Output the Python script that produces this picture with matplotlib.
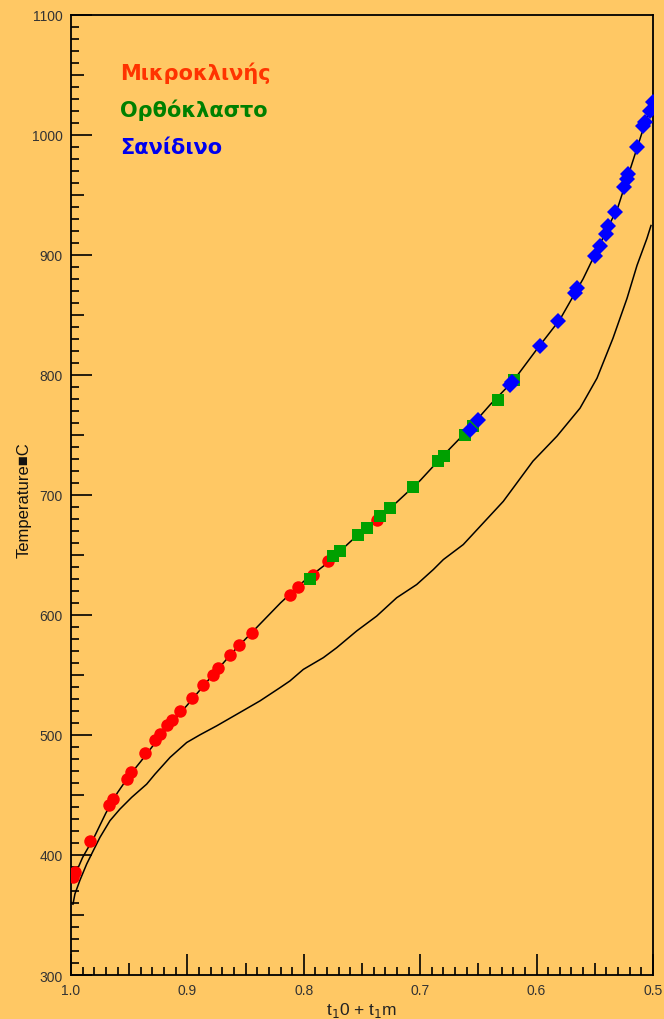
import numpy as np
import matplotlib
matplotlib.use('Agg')
import matplotlib.pyplot as plt
from matplotlib.ticker import MultipleLocator

plt.rcParams['font.family'] = ['Liberation Sans', 'DejaVu Sans']

# composition axis (t1o + t1m) and temperature (°C)
micro_x = [0.9985, 0.9966, 0.9837, 0.9674, 0.9639, 0.9519, 0.9485, 0.9364, 0.9278,
           0.9235, 0.9175, 0.9132, 0.9064, 0.8960, 0.8866, 0.8780, 0.8737, 0.8634,
           0.8557, 0.8445, 0.8119, 0.8050, 0.7921, 0.7792, 0.7371]
micro_t = [381.5, 385.6, 411.4, 441.3, 446.3, 463.0, 468.8, 484.6, 495.4,
           500.4, 507.9, 512.8, 520.3, 531.1, 541.9, 550.2, 556.1, 566.9,
           575.2, 585.2, 616.8, 623.4, 633.4, 645.0, 679.1]

ortho_x = [0.7947, 0.7749, 0.7689, 0.7534, 0.7457, 0.7345, 0.7259, 0.7062, 0.6847,
           0.6796, 0.6615, 0.6546, 0.6332, 0.6194]
ortho_t = [630.0, 649.2, 653.3, 666.6, 672.5, 682.4, 689.0, 706.5, 728.1,
           732.3, 749.8, 757.2, 778.9, 795.5]

sanid_x = [0.5000, 0.5026, 0.5069, 0.5086, 0.5137, 0.5215, 0.5223, 0.5249, 0.5326,
           0.5387, 0.5404, 0.5455, 0.5498, 0.5653, 0.5670, 0.5816, 0.5971, 0.6211,
           0.6229, 0.6503, 0.6572]
sanid_t = [1027.4, 1019.9, 1010.8, 1007.5, 990.0, 967.6, 963.4, 956.8, 936.0,
           924.3, 917.7, 907.7, 899.4, 872.0, 867.8, 844.5, 823.7, 793.8,
           791.3, 762.0, 753.7]

# upper curve (through the feldspar data)
upper_x = [0.999, 0.99, 0.98, 0.97, 0.96, 0.95, 0.94, 0.92, 0.90, 0.88, 0.86, 0.84,
           0.82, 0.80, 0.78, 0.76, 0.74, 0.72, 0.70, 0.68, 0.66, 0.64, 0.62, 0.60,
           0.58, 0.56, 0.55, 0.54, 0.53, 0.52, 0.51, 0.50]
upper_t = [378, 398, 415, 435, 452, 466, 478, 503, 525, 548, 570, 590,
           610, 628, 643, 661, 678, 694, 712, 733, 753, 775, 795, 821,
           846, 880, 900, 920, 940, 970, 1000, 1028]

# lower curve
lower_x = [0.9983, 0.9966, 0.9923, 0.9865, 0.9808, 0.9751, 0.9665, 0.9579, 0.9479,
           0.9350, 0.9278, 0.9149, 0.9006, 0.8892, 0.8748, 0.8576, 0.8376, 0.8204,
           0.8119, 0.8004, 0.7832, 0.7717, 0.7546, 0.7374, 0.7202, 0.7030, 0.6887,
           0.6801, 0.6630, 0.6458, 0.6286, 0.6031, 0.5825, 0.5627, 0.5481, 0.5344,
           0.5223, 0.5137, 0.5052, 0.5017]
lower_t = [359.0, 367.6, 379.0, 392.5, 403.7, 414.7, 428.6, 438.3, 448.0,
           459.0, 467.4, 481.3, 493.7, 500.1, 507.6, 517.2, 528.4, 539.4,
           545.0, 554.6, 564.4, 572.7, 586.6, 599.0, 614.3, 625.3, 637.8,
           646.1, 658.6, 676.6, 694.6, 728.1, 748.9, 772.2, 797.2, 830.4,
           863.7, 891.2, 913.6, 924.4]

bg = '#FFC864'
fig = plt.figure(figsize=(6.64, 10.2), dpi=100, facecolor=bg)
ax = fig.add_axes([0.1069, 0.0431, 0.8765, 0.9415], facecolor=bg)

ax.plot(upper_x, upper_t, color='black', lw=1.1, zorder=2)
ax.plot(lower_x, lower_t, color='black', lw=1.1, zorder=2)

ax.plot(micro_x, micro_t, 'o', color='#FF0000', ms=9, mew=0, zorder=3)
ax.plot(ortho_x, ortho_t, 's', color='#00A000', ms=8.5, mew=0, zorder=4)
ax.plot(sanid_x, sanid_t, 'D', color='#0000FF', ms=8, mew=0, zorder=5)

ax.set_xlim(1.0, 0.5)
ax.set_ylim(300, 1100)

ax.xaxis.set_major_locator(MultipleLocator(0.1))
ax.xaxis.set_minor_locator(MultipleLocator(0.01))
ax.yaxis.set_major_locator(MultipleLocator(100))
ax.yaxis.set_minor_locator(MultipleLocator(10))
ax.xaxis.set_major_formatter(plt.FormatStrFormatter('%.1f'))

ax.tick_params(which='major', direction='in', length=15, width=1.2,
               labelsize=10, labelcolor='#333333', pad=6, top=False, right=False)
ax.tick_params(which='minor', direction='in', length=6, width=1.2, top=False, right=False)

for sp in ax.spines.values():
    sp.set_linewidth(1.3)

# half-way ticks a bit longer
for loc, tk in zip(ax.yaxis.get_minorticklocs(), ax.yaxis.get_minor_ticks()):
    if abs(loc % 50) < 1e-6 or abs(loc % 50 - 50) < 1e-6:
        tk.tick1line.set_markersize(9)
for loc, tk in zip(ax.xaxis.get_minorticklocs(), ax.xaxis.get_minor_ticks()):
    if round(loc * 100) % 5 == 0:
        tk.tick1line.set_markersize(9)

ax.set_xlabel('t$_1$0 + t$_1$m', fontsize=12.5, color='#222222', labelpad=2)
ax.set_ylabel('Temperature\u25A0C', fontsize=12, color='#111111')
ax.yaxis.set_label_coords(-0.068, 0.496)

names = ['Μικροκλινής', 'Ορθόκλαστο', 'Σανίδινο']
name_colors = ['#FF3300', '#008000', '#0000EE']
for i, (name, c) in enumerate(zip(names, name_colors)):
    ax.text(0.084, 0.9405 - 0.039 * i, name, transform=ax.transAxes, color=c,
            fontsize=15, fontweight='bold', family='DejaVu Sans', va='center')

fig.savefig('out.png', dpi=100, facecolor=bg)
